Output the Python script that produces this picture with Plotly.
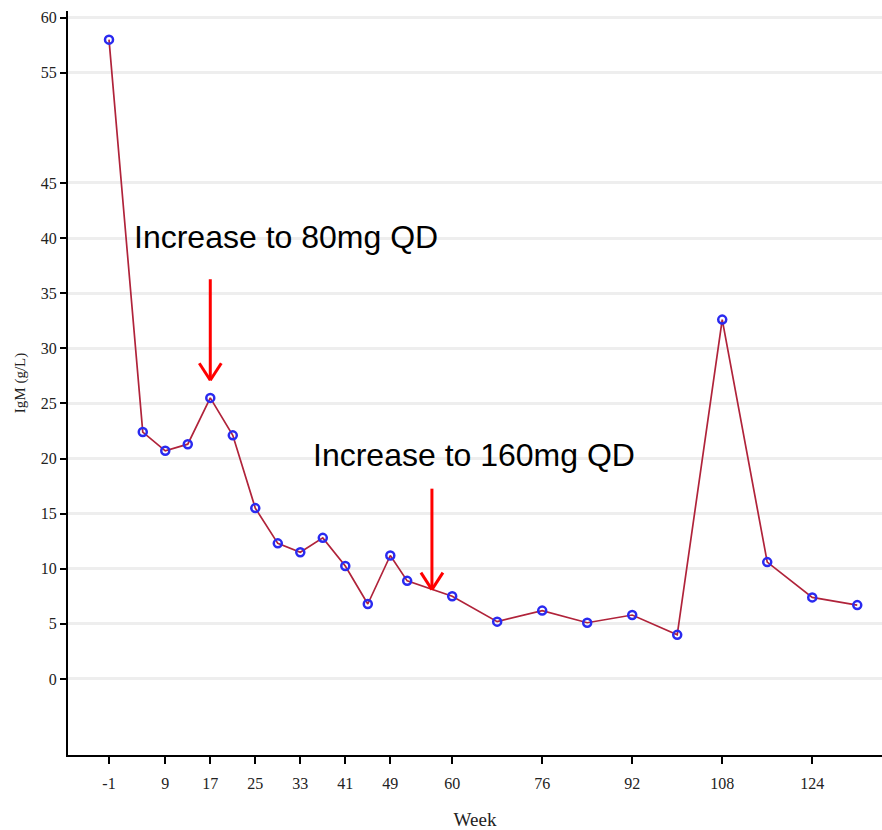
import plotly.graph_objects as go

weeks = [-1, 5, 9, 13, 17, 21, 25, 29, 33, 37, 41, 45, 49, 52, 60, 68, 76, 84, 92, 100, 108, 116, 124, 132]
igm = [58.0, 22.4, 20.7, 21.3, 25.5, 22.1, 15.5, 12.3, 11.5, 12.8, 10.25, 6.8, 11.2, 8.9, 7.5, 5.2, 6.2, 5.1, 5.8, 4.0, 32.6, 10.6, 7.4, 6.7]

x_tick_vals = [-1, 9, 17, 25, 33, 41, 49, 60, 76, 92, 108, 124]
y_tick_vals = [0, 5, 10, 15, 20, 25, 30, 35, 40, 45, 55, 60]

ann_texts = ["Increase to 80mg QD", "Increase to 160mg QD"]
ann_text_x = [3.1, 34.9]
ann_text_y = [40.1, 20.3]
arrow_x = [17, 56.4]
arrow_tip_y = [27.1, 8.1]

fig = go.Figure()
fig.add_trace(go.Scatter(
    x=weeks, y=igm, mode="lines+markers",
    line=dict(color="#B0233A", width=1.7),
    marker=dict(symbol="circle-open", size=8, color="#2a2af0", line=dict(width=2.5, color="#2a2af0")),
    showlegend=False, hoverinfo="x+y",
))

shapes = []
for ax_, ay_ in zip(arrow_x, arrow_tip_y):
    common = dict(type="line", xref="x", yref="y", xsizemode="pixel", ysizemode="pixel",
                  xanchor=ax_, yanchor=ay_, line=dict(color="#ff0000", width=3))
    shapes.append(dict(common, x0=0, y0=0, x1=0, y1=101))
    shapes.append(dict(common, x0=-11, y0=17, x1=0, y1=0))
    shapes.append(dict(common, x0=11, y0=17, x1=0, y1=0))

annotations = []
for t, tx, ty in zip(ann_texts, ann_text_x, ann_text_y):
    annotations.append(dict(text=t, x=tx, y=ty, xref="x", yref="y", xanchor="left", yanchor="middle",
                            showarrow=False, font=dict(family="Liberation Sans", size=32, color="black")))

fig.update_layout(
    width=882, height=830,
    margin=dict(l=68, r=0, t=11, b=75),
    paper_bgcolor="white", plot_bgcolor="white",
    shapes=shapes, annotations=annotations,
    xaxis=dict(range=[-8.29, 136.4], tickmode="array", tickvals=x_tick_vals,
               ticktext=[str(v) for v in x_tick_vals],
               showgrid=False, zeroline=False, showline=True, linecolor="black", linewidth=2,
               ticks="outside", ticklen=7, tickwidth=1.5, tickcolor="black",
               ticklabelstandoff=6,
               tickfont=dict(family="Liberation Serif", size=16, color="#222"),
               title=dict(text="Week", font=dict(family="Liberation Serif", size=19, color="#222"), standoff=22)),
    yaxis=dict(range=[-6.9, 60.6], tickmode="array", tickvals=y_tick_vals,
               ticktext=[str(v) for v in y_tick_vals],
               showgrid=True, gridcolor="#eeeeee", gridwidth=3, zeroline=False,
               showline=True, linecolor="black", linewidth=2,
               ticks="outside", ticklen=6, tickwidth=2, tickcolor="black",
               tickfont=dict(family="Liberation Serif", size=16, color="#222"),
               title=dict(text="IgM (g/L)", font=dict(family="Liberation Serif", size=15, color="#222"), standoff=12)),
)

fig.write_html("out.html")
